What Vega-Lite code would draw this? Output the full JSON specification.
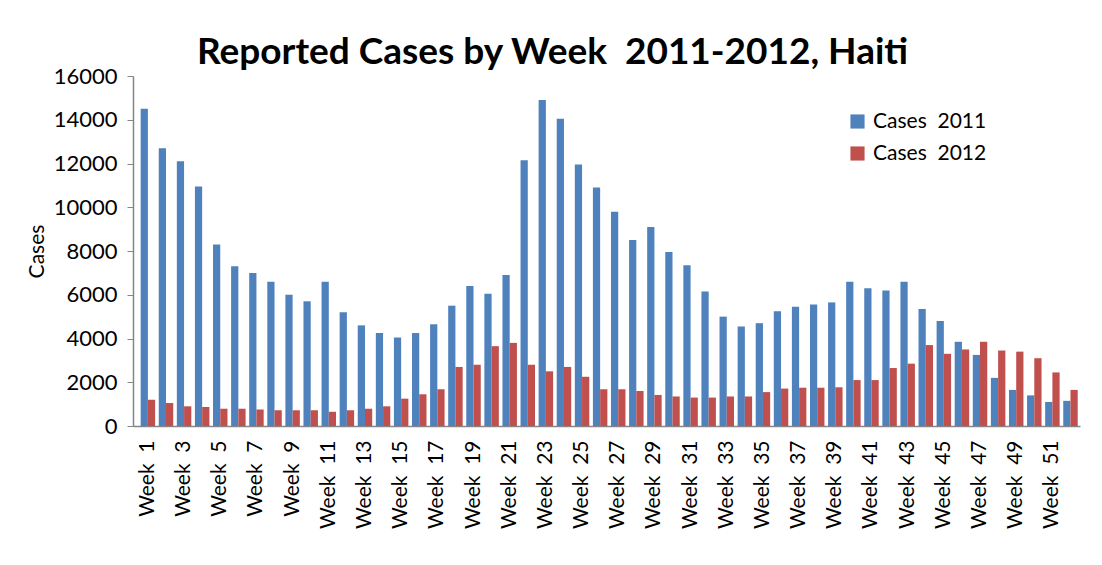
{
  "$schema": "https://vega.github.io/schema/vega-lite/v6.json",
  "autosize": "none",
  "width": 947,
  "height": 350,
  "padding": {"left": 133, "top": 76, "right": 22, "bottom": 139},
  "background": "white",
  "title": {
    "text": "Reported Cases by Week \u00a02011-2012, Haiti",
    "font": "Lato",
    "fontWeight": "bold",
    "fontSize": 37,
    "color": "#000000",
    "anchor": "start",
    "frame": "group",
    "dx": 64,
    "baseline": "alphabetic",
    "offset": -36
  },
  "data": {
    "values": [
      {"week": 1, "y2011": 14500, "y2012": 1200},
      {"week": 2, "y2011": 12700, "y2012": 1050},
      {"week": 3, "y2011": 12100, "y2012": 900},
      {"week": 4, "y2011": 10950, "y2012": 870},
      {"week": 5, "y2011": 8300, "y2012": 790},
      {"week": 6, "y2011": 7300, "y2012": 790},
      {"week": 7, "y2011": 7000, "y2012": 760},
      {"week": 8, "y2011": 6600, "y2012": 720},
      {"week": 9, "y2011": 6000, "y2012": 720},
      {"week": 10, "y2011": 5700, "y2012": 720},
      {"week": 11, "y2011": 6600, "y2012": 650},
      {"week": 12, "y2011": 5200, "y2012": 720},
      {"week": 13, "y2011": 4600, "y2012": 790},
      {"week": 14, "y2011": 4250, "y2012": 900},
      {"week": 15, "y2011": 4050, "y2012": 1250},
      {"week": 16, "y2011": 4250, "y2012": 1450},
      {"week": 17, "y2011": 4650, "y2012": 1680},
      {"week": 18, "y2011": 5500, "y2012": 2700},
      {"week": 19, "y2011": 6400, "y2012": 2800},
      {"week": 20, "y2011": 6050, "y2012": 3650},
      {"week": 21, "y2011": 6900, "y2012": 3800},
      {"week": 22, "y2011": 12150, "y2012": 2800},
      {"week": 23, "y2011": 14900, "y2012": 2500},
      {"week": 24, "y2011": 14050, "y2012": 2700},
      {"week": 25, "y2011": 11950, "y2012": 2250},
      {"week": 26, "y2011": 10900, "y2012": 1680},
      {"week": 27, "y2011": 9800, "y2012": 1680},
      {"week": 28, "y2011": 8500, "y2012": 1600},
      {"week": 29, "y2011": 9100, "y2012": 1420},
      {"week": 30, "y2011": 7950, "y2012": 1350},
      {"week": 31, "y2011": 7350, "y2012": 1300},
      {"week": 32, "y2011": 6150, "y2012": 1300},
      {"week": 33, "y2011": 5000, "y2012": 1350},
      {"week": 34, "y2011": 4550, "y2012": 1350},
      {"week": 35, "y2011": 4700, "y2012": 1550},
      {"week": 36, "y2011": 5250, "y2012": 1710},
      {"week": 37, "y2011": 5450, "y2012": 1750},
      {"week": 38, "y2011": 5550, "y2012": 1750},
      {"week": 39, "y2011": 5650, "y2012": 1770},
      {"week": 40, "y2011": 6600, "y2012": 2100},
      {"week": 41, "y2011": 6300, "y2012": 2100},
      {"week": 42, "y2011": 6200, "y2012": 2650},
      {"week": 43, "y2011": 6600, "y2012": 2850},
      {"week": 44, "y2011": 5350, "y2012": 3700},
      {"week": 45, "y2011": 4800, "y2012": 3300},
      {"week": 46, "y2011": 3850, "y2012": 3500},
      {"week": 47, "y2011": 3250, "y2012": 3850},
      {"week": 48, "y2011": 2200, "y2012": 3450},
      {"week": 49, "y2011": 1650, "y2012": 3400},
      {"week": 50, "y2011": 1400, "y2012": 3100},
      {"week": 51, "y2011": 1100, "y2012": 2450},
      {"week": 52, "y2011": 1150, "y2012": 1650}
    ]
  },
  "transform": [
    {"fold": ["y2011", "y2012"], "as": ["series", "cases"]}
  ],
  "mark": {"type": "bar"},
  "encoding": {
    "x": {
      "field": "week",
      "type": "ordinal",
      "sort": "ascending",
      "scale": {"paddingInner": 0.2, "paddingOuter": 0.275, "align": 0.77},
      "axis": {
        "title": null,
        "labelAngle": -90,
        "labelAlign": "right",
        "labelBaseline": "middle",
        "labelExpr": "datum.value % 2 == 1 ? 'Week \u00a0' + datum.value : ''",
        "labelFont": "Lato",
        "labelFontSize": 21,
        "labelColor": "#000000",
        "labelPadding": 14,
        "labelOverlap": false,
        "ticks": false,
        "domainColor": "#868686",
        "domainWidth": 1.5
      }
    },
    "xOffset": {"field": "series", "type": "nominal", "scale": {"paddingInner": 0, "paddingOuter": 0}},
    "y": {
      "field": "cases",
      "type": "quantitative",
      "scale": {"domain": [0, 16000], "nice": false},
      "axis": {
        "title": "Cases",
        "titleFont": "Lato",
        "titleFontSize": 21,
        "titleFontWeight": "normal",
        "titleColor": "#000000",
        "titlePadding": 6,
        "values": [0, 2000, 4000, 6000, 8000, 10000, 12000, 14000, 16000],
        "format": "d",
        "labelFont": "Lato",
        "labelFontSize": 22,
        "labelColor": "#000000",
        "labelPadding": 10,
        "grid": false,
        "tickSize": 6,
        "tickColor": "#868686",
        "domainColor": "#868686",
        "domainWidth": 1.5
      }
    },
    "color": {
      "field": "series",
      "type": "nominal",
      "scale": {"domain": ["y2011", "y2012"], "range": ["#4F81BD", "#C0504D"]},
      "legend": {
        "title": null,
        "orient": "none",
        "legendX": 714,
        "legendY": 35,
        "symbolType": "square",
        "symbolSize": 200,
        "symbolStrokeWidth": 0,
        "labelExpr": "datum.value == 'y2011' ? 'Cases \u00a02011' : 'Cases \u00a02012'",
        "labelFont": "Lato",
        "labelFontSize": 21,
        "labelColor": "#000000",
        "rowPadding": 10,
        "labelOffset": 5
      }
    }
  },
  "config": {
    "view": {"stroke": null}
  }
}
